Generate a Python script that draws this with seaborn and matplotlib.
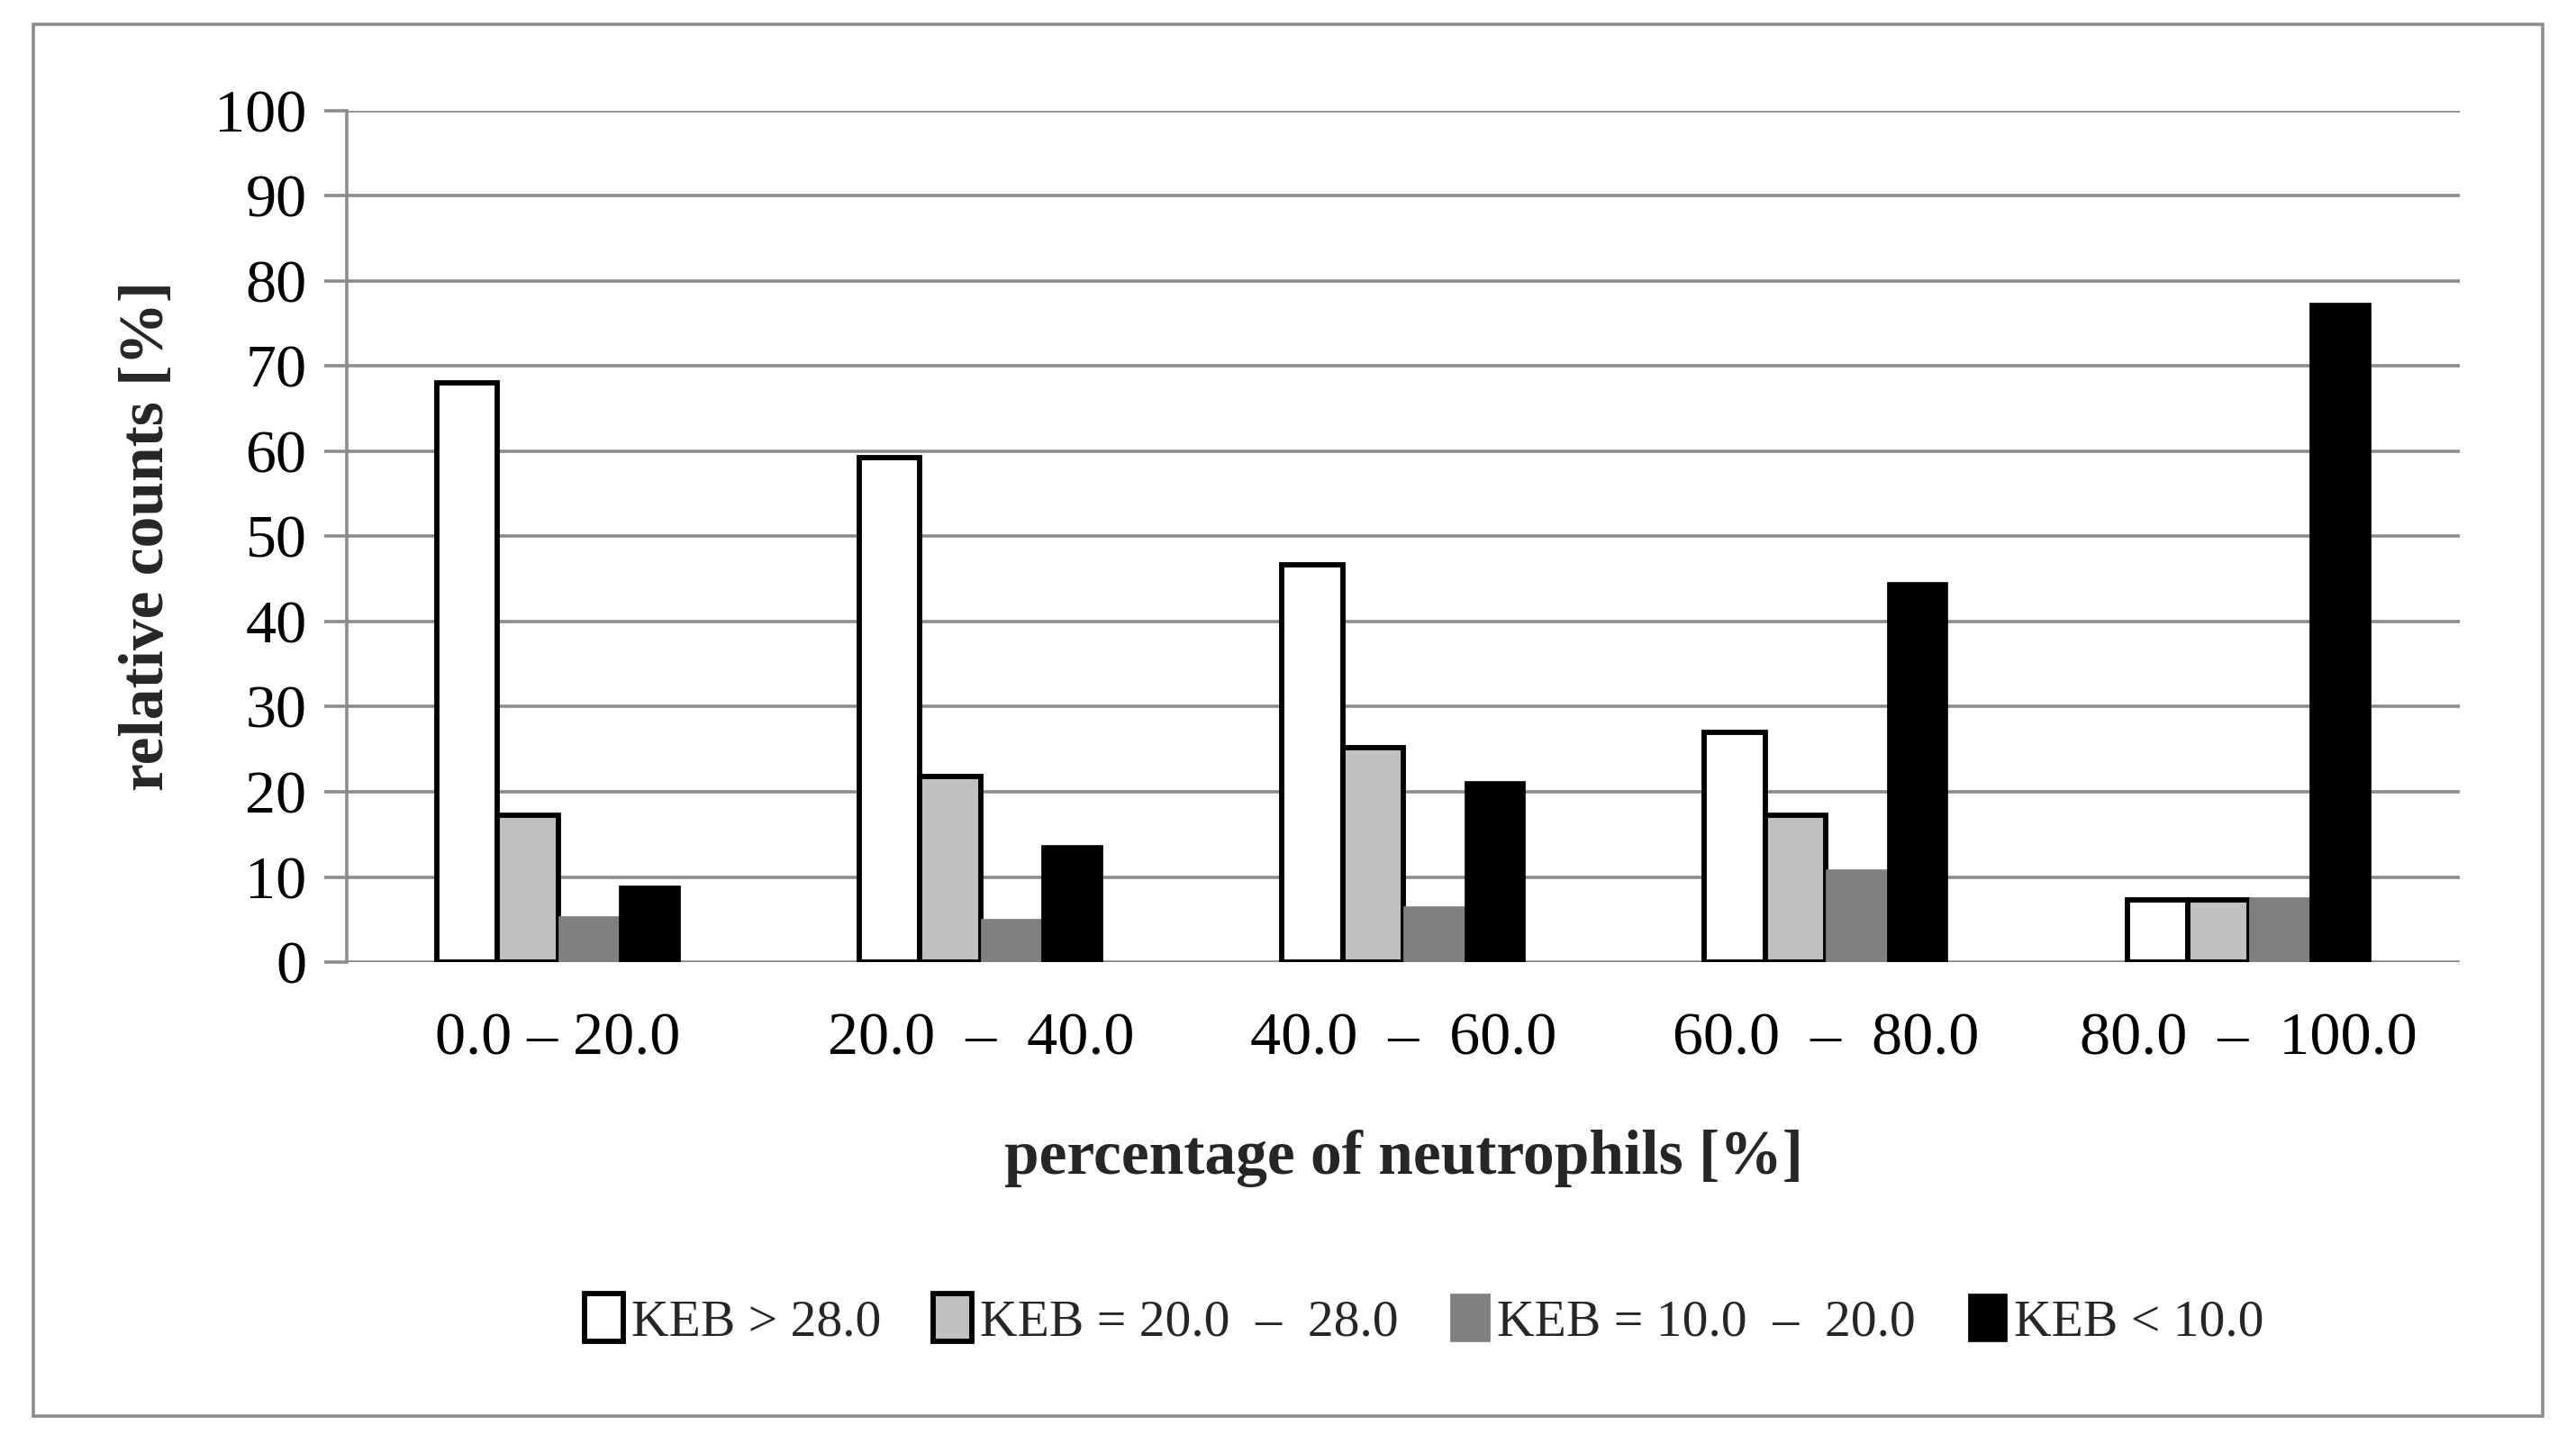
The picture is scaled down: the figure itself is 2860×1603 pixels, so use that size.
import pandas as pd
import matplotlib
matplotlib.use('Agg')
import matplotlib.pyplot as plt
import seaborn as sns
from matplotlib.patches import Rectangle

ranges = ['0.0 – 20.0', '20.0  –  40.0', '40.0  –  60.0', '60.0  –  80.0', '80.0  –  100.0']
groups = ['KEB > 28.0', 'KEB = 20.0  –  28.0', 'KEB = 10.0  –  20.0', 'KEB < 10.0']
keb_high = [68.0, 59.3, 46.7, 27.0, 7.3]
keb_20_28 = [17.3, 21.8, 25.2, 17.3, 7.3]
keb_10_20 = [5.4, 5.1, 6.6, 10.9, 7.6]
keb_low = [9.0, 13.8, 21.3, 44.6, 77.4]
colors = ['#FFFFFF', '#C0C0C0', '#808080', '#000000']

rows = []
for g, vals in zip(groups, [keb_high, keb_20_28, keb_10_20, keb_low]):
    for r, v in zip(ranges, vals):
        rows.append({'range': r, 'group': g, 'value': v})
df = pd.DataFrame(rows)

sns.set_theme(style='white')
plt.rcParams['font.family'] = ['Liberation Serif', 'DejaVu Serif']
grid_c = '#8C8C8C'

fig = plt.figure(figsize=(28.6, 16.03), dpi=100)
ax = fig.add_axes([0.1346, 0.3337, 0.8204, 0.5897])

sns.barplot(data=df, x='range', y='value', hue='group', hue_order=groups,
            order=ranges, palette=colors, width=0.575, saturation=1,
            ax=ax, zorder=3, legend=False)

for cont, c in zip(ax.containers, colors):
    for p in cont:
        if c in ('#FFFFFF', '#C0C0C0'):
            p.set_edgecolor('black')
            p.set_linewidth(4.2)
        else:
            p.set_edgecolor(c)
            p.set_linewidth(0.5)

ax.set_ylim(0, 100)
ax.set_xlim(-0.5, 4.5)
ax.set_yticks(range(0, 101, 10))
ax.yaxis.grid(True, color=grid_c, linewidth=2.6, zorder=0)
ax.set_axisbelow(True)
for s in ['top', 'right', 'bottom']:
    ax.spines[s].set_visible(False)
ax.spines['left'].set_color(grid_c)
ax.spines['left'].set_linewidth(2.6)
ax.tick_params(axis='y', left=True, length=18, width=2.6, color=grid_c,
               labelsize=49, pad=14, labelcolor='black')
ax.tick_params(axis='x', bottom=False, labelsize=49, pad=34, labelcolor='black')

ax.set_ylabel('relative counts [%]', fontsize=50, fontweight='bold', labelpad=30)
ax.set_xlabel('percentage of neutrophils [%]', fontsize=50, fontweight='bold', labelpad=50)

fig.legend(ax.containers, groups, loc='center', bbox_to_anchor=(0.553, 0.086),
           ncol=4, frameon=False, fontsize=41.5, handlelength=0.75, handleheight=1.05,
           handletextpad=0.15, columnspacing=1.0)

fig.patches.append(Rectangle((0.0128, 0.0194), 0.9742, 0.9636, transform=fig.transFigure,
                             fill=False, edgecolor=grid_c, linewidth=2.6))

plt.savefig('out.png', dpi=100)
plt.close()
